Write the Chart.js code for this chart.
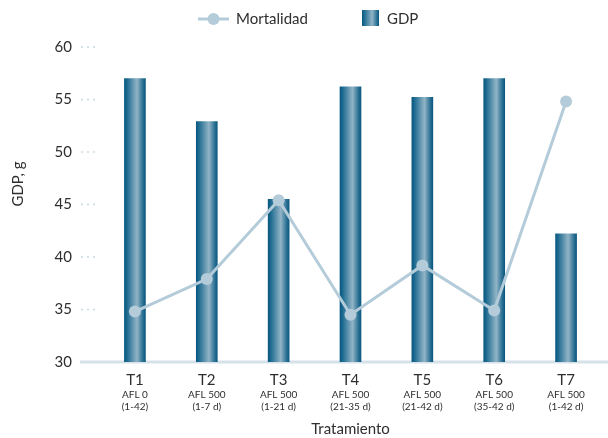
<!DOCTYPE html>
<html>
<head>
<meta charset="utf-8">
<script src="https://cdn.jsdelivr.net/npm/chart.js@4.4.1/dist/chart.umd.min.js"></script>
<style>
  html, body { margin: 0; padding: 0; background: #ffffff; }
  canvas { display: block; }
</style>
</head>
<body>
<canvas id="chart" width="608" height="438"></canvas>
<script>
// Treatments and their dosing details
const categories = ['T1', 'T2', 'T3', 'T4', 'T5', 'T6', 'T7'];
const treatmentDetails = [
  ['AFL 0', '(1-42)'],
  ['AFL 500', '(1-7 d)'],
  ['AFL 500', '(1-21 d)'],
  ['AFL 500', '(21-35 d)'],
  ['AFL 500', '(21-42 d)'],
  ['AFL 500', '(35-42 d)'],
  ['AFL 500', '(1-42 d)']
];
// Daily weight gain (g) per treatment
const gdp = [57.0, 52.9, 45.5, 56.2, 55.2, 57.0, 42.2];
// Mortality series, plotted against the same vertical scale
const mortalidad = [34.8, 37.9, 45.4, 34.5, 39.2, 34.9, 54.8];
// Vertical axis ticks
const yTicks = [30, 35, 40, 45, 50, 55, 60];

const FONT = 'Lato, "Open Sans", sans-serif';
const TEXT = '#2e2e2e';
const LINE_COLOR = '#b4ccd9';
const BAR_W = 21;
const BAR_DARK = '#0b5880';
const BAR_LIGHT = '#92b4c6';

function barGradient(g) {
  g.addColorStop(0, BAR_DARK);
  g.addColorStop(0.12, '#1c6a90');
  g.addColorStop(0.6, BAR_LIGHT);
  g.addColorStop(0.88, '#2a7093');
  g.addColorStop(1, BAR_DARK);
  return g;
}

function barFill(ctx) {
  const chart = ctx.chart;
  const xs = chart.scales && chart.scales.x;
  if (!chart.chartArea || !xs || ctx.type !== 'data') return BAR_DARK;
  const cx = xs.getPixelForValue(ctx.dataIndex);
  return barGradient(chart.ctx.createLinearGradient(cx - BAR_W / 2, 0, cx + BAR_W / 2, 0));
}

// Baseline, dotted tick marks, legend and the rotated y title
const decorations = {
  id: 'decorations',
  beforeDatasetsDraw(chart) {
    const { ctx, scales: { y } } = chart;
    ctx.save();
    const yb = y.getPixelForValue(yTicks[0]);
    ctx.fillStyle = '#d5e2ea';
    ctx.fillRect(80, yb - 1.5, 528, 3);
    ctx.fillStyle = '#cddbe4';
    yTicks.slice(1).forEach(v => {
      const py = y.getPixelForValue(v);
      [82, 88, 94].forEach(px => {
        ctx.beginPath(); ctx.arc(px, py, 1.1, 0, Math.PI * 2); ctx.fill();
      });
    });
    ctx.restore();
  },
  afterDraw(chart) {
    const { ctx } = chart;
    const [lineSet, barSet] = chart.data.datasets;
    ctx.save();
    ctx.font = '15px ' + FONT;
    ctx.fillStyle = TEXT;
    ctx.textBaseline = 'middle';

    // legend: line series
    const ly = 19;
    ctx.strokeStyle = LINE_COLOR;
    ctx.lineWidth = 3;
    ctx.beginPath(); ctx.moveTo(198, ly); ctx.lineTo(229, ly); ctx.stroke();
    ctx.fillStyle = LINE_COLOR;
    ctx.beginPath(); ctx.arc(213.5, ly, 6, 0, Math.PI * 2); ctx.fill();
    ctx.fillStyle = TEXT;
    ctx.textAlign = 'left';
    ctx.fillText(lineSet.label, 236, ly);

    // legend: bar series
    ctx.fillStyle = barGradient(ctx.createLinearGradient(362, 0, 379, 0));
    ctx.fillRect(362, 10, 17, 16);
    ctx.fillStyle = TEXT;
    ctx.fillText(barSet.label, 387, ly);

    // y axis title
    ctx.translate(18, 184);
    ctx.rotate(-Math.PI / 2);
    ctx.textAlign = 'center';
    ctx.fillText('GDP, g', 0, 0);
    ctx.restore();
  }
};

new Chart(document.getElementById('chart'), {
  data: {
    labels: categories,
    datasets: [
      {
        type: 'line',
        label: 'Mortalidad',
        data: mortalidad,
        order: 0,
        borderColor: LINE_COLOR,
        backgroundColor: LINE_COLOR,
        borderWidth: 3,
        pointRadius: 6,
        pointBorderWidth: 0,
        pointBackgroundColor: LINE_COLOR,
        tension: 0
      },
      {
        type: 'bar',
        label: 'GDP',
        data: gdp,
        order: 1,
        backgroundColor: barFill,
        borderWidth: 0,
        barThickness: BAR_W
      }
    ]
  },
  options: {
    responsive: false,
    animation: false,
    events: [],
    layout: { padding: { top: 47, right: 4, bottom: 0, left: 0 } },
    plugins: {
      tooltip: { enabled: false },
      legend: { display: false }
    },
    scales: {
      y: {
        type: 'linear',
        position: 'left',
        min: yTicks[0],
        max: yTicks[yTicks.length - 1],
        afterFit(scale) { scale.width = 99; },
        afterBuildTicks(scale) { scale.ticks = yTicks.map(v => ({ value: v })); },
        grid: { display: false, drawTicks: false },
        border: { display: false },
        ticks: { padding: 27, color: TEXT, font: { family: FONT, size: 15 } }
      },
      x: {
        type: 'category',
        position: 'bottom',
        weight: 0,
        offset: true,
        afterFit(scale) { scale.height = 27; },
        grid: { display: false, drawTicks: false },
        border: { display: false },
        ticks: { padding: 9, color: TEXT, font: { family: FONT, size: 15 }, maxRotation: 0, autoSkip: false }
      },
      x2: {
        type: 'category',
        position: 'bottom',
        weight: 1,
        offset: true,
        labels: treatmentDetails,
        afterFit(scale) { scale.height = 49; },
        grid: { display: false, drawTicks: false },
        border: { display: false },
        ticks: { padding: 0, color: TEXT, font: { family: FONT, size: 10 }, maxRotation: 0, autoSkip: false },
        title: {
          display: true,
          text: 'Tratamiento',
          color: TEXT,
          font: { family: FONT, size: 15 },
          padding: { top: 7, bottom: 0 }
        }
      }
    }
  },
  plugins: [decorations]
});
</script>
</body>
</html>
